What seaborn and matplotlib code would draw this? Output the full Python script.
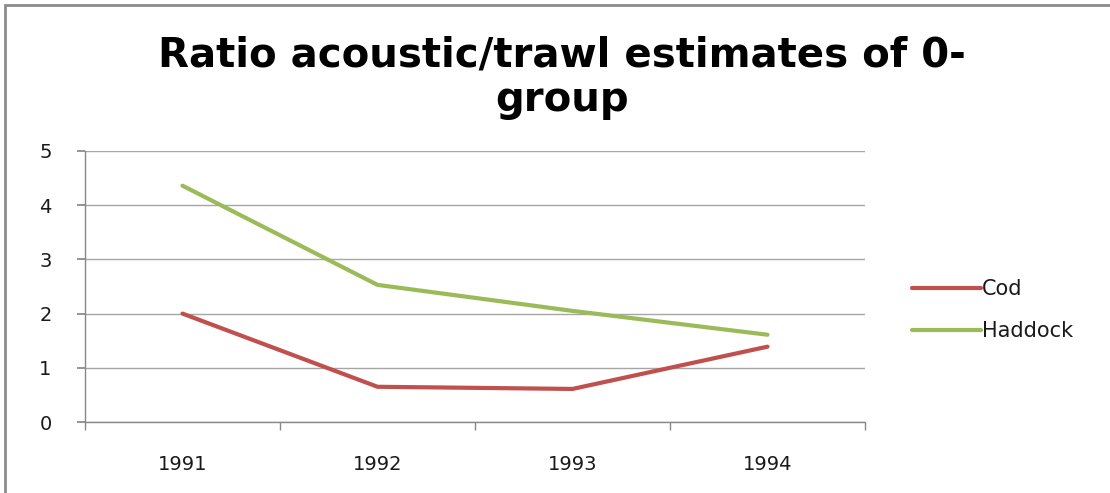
import matplotlib
matplotlib.use("Agg")
import matplotlib.pyplot as plt
import seaborn as sns
import pandas as pd
from matplotlib.patches import Rectangle
from matplotlib.lines import Line2D

years = ["1991", "1992", "1993", "1994"]
cod = [2.0, 0.65, 0.61, 1.39]
haddock = [4.36, 2.53, 2.05, 1.61]
series_names = ["Cod", "Haddock"]
colors = {"Cod": "#C0504D", "Haddock": "#9BBB59"}
title = "Ratio acoustic/trawl estimates of 0-\ngroup"

df = pd.DataFrame({
    "year": years * 2,
    "value": cod + haddock,
    "series": ["Cod"] * 4 + ["Haddock"] * 4,
})
df["x"] = [0.5 + i for i in range(4)] * 2

sns.set_theme(style="white")
plt.rcParams["font.family"] = ["DejaVu Sans"]

fig = plt.figure(figsize=(11.1, 4.93), dpi=100)
ax = fig.add_axes([85/1110, 1-422/493, 780/1110, 271/493])

sns.lineplot(data=df, x="x", y="value", hue="series", palette=colors,
             linewidth=3, ax=ax, legend=False, sort=False)

ax.set_xlim(0, 4)
ax.set_ylim(0, 5)
ax.set_yticks(range(6))
ax.set_xticks([0.5 + i for i in range(4)])
ax.set_xticklabels(years)
ax.set_xticks(range(5), minor=True)
ax.tick_params(axis="x", which="major", length=0, pad=24, labelsize=14, colors="#1a1a1a")
ax.tick_params(axis="x", which="minor", length=6, color="#888888", direction="out", bottom=True)
ax.tick_params(axis="y", length=6, color="#888888", direction="out", left=True, pad=18,
               labelsize=14, colors="#1a1a1a")
ax.set_xlabel("")
ax.set_ylabel("")
ax.grid(axis="y", color="#a6a6a6", linewidth=1)
ax.set_axisbelow(True)
for s in ["top", "right"]:
    ax.spines[s].set_visible(False)
for s in ["left", "bottom"]:
    ax.spines[s].set_color("#888888")
    ax.spines[s].set_linewidth(1)

handles = [Line2D([0], [0], color=colors[n], lw=3) for n in series_names]
leg = fig.legend(handles, series_names, loc="center left", bbox_to_anchor=(893/1110, 1-310/493),
                 frameon=False, fontsize=15, handlelength=3.3, handletextpad=0.05,
                 labelspacing=1.05)
for t in leg.get_texts():
    t.set_color("#1a1a1a")

fig.text(562/1110, 1-78/493, title, ha="center", va="center", fontsize=29,
         fontweight="bold", color="black", family=["DejaVu Sans"], linespacing=1.15)

fig.patches.append(Rectangle((5/1110, -0.1), 1.1, 1.1 - 5/493, transform=fig.transFigure,
                             fill=False, edgecolor="#8c8c8c", linewidth=2))

fig.savefig("out.png", dpi=100)
